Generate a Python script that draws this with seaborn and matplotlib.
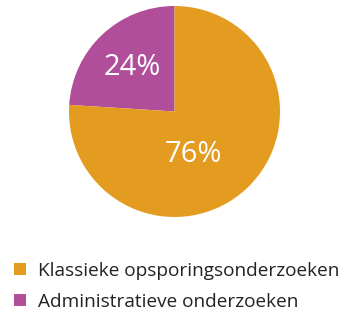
import matplotlib
matplotlib.use("Agg")
import matplotlib.pyplot as plt
from matplotlib.patches import Patch
import seaborn as sns

categories = ["Klassieke opsporingsonderzoeken", "Administratieve onderzoeken"]
shares = [76, 24]
colors = ["#E39B20", "#B04E9A"]

sns.set_theme(style="white")
plt.rcParams["font.family"] = ["Open Sans", "DejaVu Sans"]

fig = plt.figure(figsize=(3.55, 3.14), dpi=100)
ax = fig.add_axes([69 / 355, 1 - 217 / 314, 211 / 355, 211 / 314])

# purple slice first so it runs counter-clockwise from 12 o'clock
wedges, _ = ax.pie(shares[::-1], colors=colors[::-1], startangle=90,
                   counterclock=True, radius=1,
                   wedgeprops=dict(linewidth=0))
ax.set_xlim(-1, 1)
ax.set_ylim(-1, 1)
ax.set_aspect("equal")
ax.axis("off")

ax.text(-0.40, 0.42, f"{shares[1]}%", color="white", fontsize=21,
        ha="center", va="center")
ax.text(0.18, -0.41, f"{shares[0]}%", color="white", fontsize=21,
        ha="center", va="center")

handles = [Patch(facecolor=c, edgecolor="none") for c in colors]
fig.legend(handles, categories, loc="upper left",
           bbox_to_anchor=(14 / 355, 1 - 262 / 314), frameon=False,
           fontsize=13.7, handlelength=0.62, handleheight=0.62,
           handletextpad=0.62, labelspacing=0.68, borderaxespad=0,
           borderpad=0, labelcolor="#222222")

fig.savefig("out.png", dpi=100)
